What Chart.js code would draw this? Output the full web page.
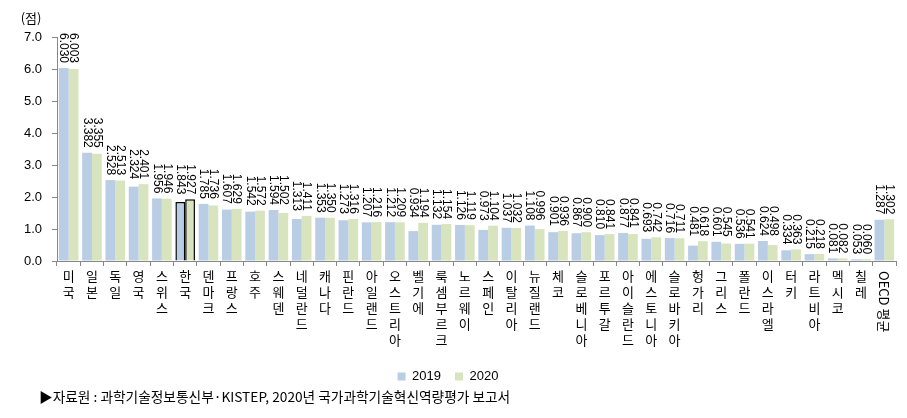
<!DOCTYPE html>
<html>
<head>
<meta charset="utf-8">
<script src="https://cdn.jsdelivr.net/npm/chart.js@4"></script>
<style>
  html, body { margin: 0; padding: 0; background: #fff; }
  #wrap { position: relative; width: 907px; height: 418px; }
</style>
</head>
<body>
<div id="wrap"><canvas id="chart" width="907" height="418"></canvas></div>
<script>
// 국가과학기술혁신역량 점수 (2019 / 2020)
const countries = ['미국', '일본', '독일', '영국', '스위스', '한국', '덴마크', '프랑스', '호주', '스웨덴',
    '네덜란드', '캐나다', '핀란드', '아일랜드', '오스트리아', '벨기에', '룩셈부르크', '노르웨이', '스페인', '이탈리아',
    '뉴질랜드', '체코', '슬로베니아', '포르투갈', '아이슬란드', '에스토니아', '슬로바키아', '헝가리', '그리스', '폴란드',
    '이스라엘', '터키', '라트비아', '멕시코', '칠레', 'OECD 평균'];
const score2019 = [6.030, 3.382, 2.528, 2.324, 1.956, 1.843, 1.785, 1.607, 1.542, 1.594,
    1.313, 1.353, 1.273, 1.207, 1.212, 0.934, 1.132, 1.126, 0.973, 1.037,
    1.108, 0.901, 0.867, 0.810, 0.877, 0.693, 0.716, 0.481, 0.601, 0.536,
    0.624, 0.334, 0.215, 0.081, 0.053, 1.287];
const score2020 = [6.003, 3.355, 2.513, 2.401, 1.946, 1.927, 1.736, 1.629, 1.572, 1.502,
    1.411, 1.350, 1.316, 1.216, 1.209, 1.194, 1.154, 1.119, 1.104, 1.032,
    0.996, 0.936, 0.900, 0.841, 0.841, 0.742, 0.711, 0.618, 0.545, 0.541,
    0.498, 0.363, 0.218, 0.082, 0.060, 1.302];
const seriesNames = ['2019', '2020'];
const yTicks = [0, 1, 2, 3, 4, 5, 6, 7];
const highlight = '한국';
const unitText = '(점)';
const sourceText = '▶자료원 : 과학기술정보통신부·KISTEP, 2020년 국가과학기술혁신역량평가 보고서';

const KFONT = '"Noto Sans CJK KR", "Noto Sans", sans-serif';
const borders = countries.map(c => c === highlight ? '#000' : 'rgba(0,0,0,0)');
const borderW = countries.map(c => c === highlight ? 1.5 : 0);

// 막대 위 값 표시, OECD 평균 라벨, 단위, 출처
const extras = {
    id: 'extras',
    afterDatasetsDraw(chart) {
        const ctx = chart.ctx;
        const x = chart.scales.x, y = chart.scales.y;
        ctx.save();
        ctx.fillStyle = '#000';
        ctx.font = '12px "Liberation Sans", Arial, sans-serif';
        ctx.textBaseline = 'middle';
        countries.forEach((c, i) => {
            const cx = x.getPixelForValue(i);
            const top = y.getPixelForValue(Math.max(score2019[i], score2020[i])) - 5;
            // 2019는 왼쪽(파란 막대 위), 2020은 오른쪽
            [score2019[i].toFixed(3), score2020[i].toFixed(3)].forEach((t, k) => {
                ctx.save();
                ctx.translate(cx + (k === 0 ? -5 : 5), top);
                ctx.rotate(Math.PI / 2);
                ctx.textAlign = 'right';
                ctx.fillText(t, 0, 0);
                ctx.restore();
            });
        });
        // 마지막 항목 라벨은 회전
        const last = countries.length - 1;
        ctx.save();
        ctx.font = '13px ' + KFONT;
        ctx.translate(x.getPixelForValue(last), chart.chartArea.bottom + 10);
        ctx.rotate(Math.PI / 2);
        ctx.textAlign = 'left';
        ctx.fillText(countries[last], 0, 0);
        ctx.restore();

        ctx.font = '13px ' + KFONT;
        ctx.textAlign = 'center';
        ctx.fillText(unitText, 31, 18);
        ctx.textAlign = 'left';
        ctx.font = '13.7px ' + KFONT;
        ctx.fillText(sourceText, 39, 397);
        ctx.restore();
    }
};

new Chart(document.getElementById('chart'), {
    type: 'bar',
    data: {
        labels: countries,
        datasets: [
            { label: seriesNames[0], data: score2019, backgroundColor: '#B9CDE5',
              borderColor: borders, borderWidth: borderW, borderSkipped: 'bottom' },
            { label: seriesNames[1], data: score2020, backgroundColor: '#D7E4BD',
              borderColor: borders, borderWidth: borderW, borderSkipped: 'bottom' }
        ]
    },
    options: {
        responsive: false,
        animation: false,
        layout: { padding: { top: 37, right: 11, left: 0, bottom: 25 } },
        datasets: { bar: { categoryPercentage: 0.84, barPercentage: 1.0 } },
        plugins: {
            legend: {
                position: 'bottom',
                labels: { boxWidth: 8, boxHeight: 8, padding: 14, color: '#000',
                          font: { size: 13, family: '"Liberation Sans", Arial, sans-serif' } }
            },
            tooltip: { enabled: false }
        },
        scales: {
            x: {
                grid: { display: true, drawOnChartArea: false, drawTicks: true, tickLength: 5, color: '#888' },
                border: { color: '#888' },
                ticks: {
                    autoSkip: false, maxRotation: 0, minRotation: 0, padding: 2, color: '#000',
                    font: { size: 13, family: KFONT, lineHeight: '16px' },
                    callback: (v, i) => i === countries.length - 1 ? '' : Array.from(countries[i])
                },
                afterFit(scale) { scale.height = 95; }
            },
            y: {
                min: 0, max: 7,
                afterBuildTicks(scale) { scale.ticks = yTicks.map(v => ({ value: v })); },
                grid: { display: true, drawOnChartArea: false, drawTicks: true, tickLength: 5, color: '#888' },
                border: { color: '#888' },
                ticks: {
                    padding: 10, color: '#000',
                    font: { size: 13, family: '"Liberation Sans", Arial, sans-serif' },
                    callback: v => v.toFixed(1)
                },
                afterFit(scale) { scale.width = 57; }
            }
        }
    },
    plugins: [extras]
});
</script>
</body>
</html>
